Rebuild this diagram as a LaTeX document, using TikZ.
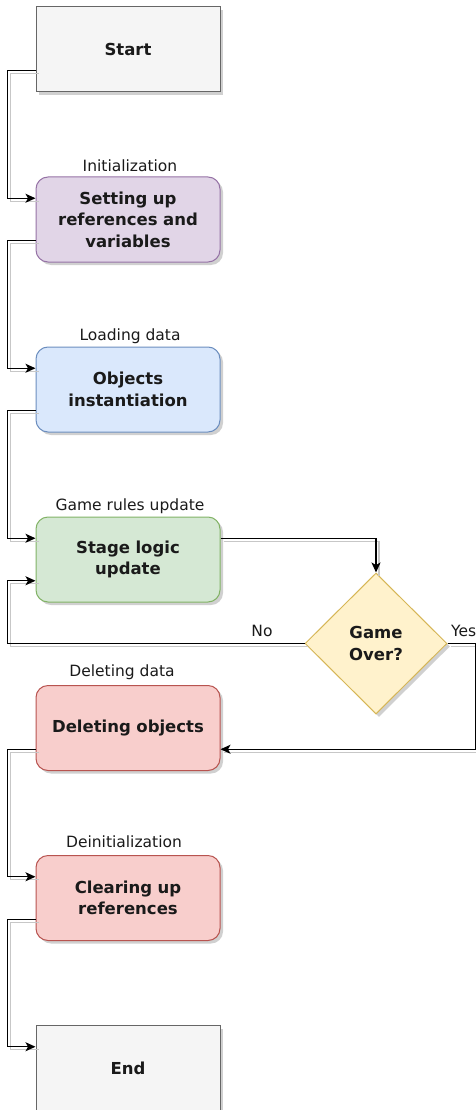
\documentclass[tikz,border=0pt]{standalone}
\usepackage{fontspec}
\setmainfont{DejaVu Sans}
\usetikzlibrary{shapes.geometric,shadows,arrows.meta}
\definecolor{greyfill}{HTML}{F5F5F5}\definecolor{greyline}{HTML}{666666}
\definecolor{purfill}{HTML}{E1D5E7}\definecolor{purline}{HTML}{9673A6}
\definecolor{bluefill}{HTML}{DAE8FC}\definecolor{blueline}{HTML}{6C8EBF}
\definecolor{grnfill}{HTML}{D5E8D4}\definecolor{grnline}{HTML}{82B366}
\definecolor{yelfill}{HTML}{FFF2CC}\definecolor{yelline}{HTML}{D6B656}
\definecolor{redfill}{HTML}{F8CECC}\definecolor{redline}{HTML}{B85450}
\definecolor{txt}{HTML}{1A1A1A}
\tikzset{
  shad/.style={drop shadow={shadow xshift=3pt,shadow yshift=-3pt,fill=black!30,opacity=0.6}},
  box/.style={draw, line width=1pt, minimum width=184pt, minimum height=85pt, text width=176pt,
    align=center, inner sep=0pt, text=txt, font=\bfseries\fontsize{16.5}{21.5}\selectfont, shad},
  rbox/.style={box, rounded corners=12pt},
  lbl/.style={font=\fontsize{15.5}{18}\selectfont, inner sep=0pt, text=txt},
  conn/.style={line width=1.3pt, -{Stealth[length=10pt,width=9pt,inset=2.5pt]},
    preaction={draw=black!22, line width=1.3pt, -, transform canvas={shift={(3pt,-3pt)}}}},
}
\begin{document}
\begin{tikzpicture}[x=1pt,y=-1pt]
\useasboundingbox (0,0) rectangle (476,1110);
\fill[white] (0,0) rectangle (476,1110);
\node[box, fill=greyfill, draw=greyline] (start) at (128,49.5) {Start};
\node[rbox, fill=purfill, draw=purline] (setup) at (128,219.5) {Setting up\\references and\\variables};
\node[rbox, fill=bluefill, draw=blueline] (obj) at (128,389.5) {Objects\\instantiation};
\node[rbox, fill=grnfill, draw=grnline] (stage) at (128,559.5) {Stage logic\\update};
\node[diamond, draw=yelline, fill=yelfill, line width=1pt, minimum width=142pt, minimum height=141pt,
  inner sep=0pt, align=center, text=txt, font=\bfseries\fontsize{16.5}{21.5}\selectfont, shad] (dia) at (376,643.5) {Game\\Over?};
\node[rbox, fill=redfill, draw=redline] (del) at (128,728) {Deleting objects};
\node[rbox, fill=redfill, draw=redline] (clear) at (128,898) {Clearing up\\references};
\node[box, fill=greyfill, draw=greyline] (end) at (128,1068) {End};

\node[lbl] (l1) at (130,166) {Initialization};
\node[lbl] (l2) at (130,336) {Loading data};
\node[lbl] (l3) at (130,506) {Game rules update};
\node[lbl] (l4) at (122,672) {Deleting data};
\node[lbl] (l5) at (124,842) {Deinitialization};
\node[lbl, anchor=center] (no) at (262,631) {No};
\node[lbl, anchor=west] (yes) at (451,631) {Yes};

\draw[conn] ([yshift=-21.25pt]start.west) -- ++(-28,0) |- ([yshift=21.25pt]setup.west);
\draw[conn] ([yshift=-21.25pt]setup.west) -- ++(-28,0) |- ([yshift=21.25pt]obj.west);
\draw[conn] ([yshift=-21.25pt]obj.west) -- ++(-28,0) |- ([yshift=21.25pt]stage.west);
\draw[conn] ([yshift=21.25pt]stage.east) -| (dia.north);
\draw[conn] (dia.west) -| ([xshift=-28pt,yshift=-21.25pt]stage.west) -- ([yshift=-21.25pt]stage.west);
\draw[conn] (dia.east) -- ++(28,0) |- ([yshift=-21.25pt]del.east);
\draw[conn] ([yshift=-21.25pt]del.west) -- ++(-28,0) |- ([yshift=21.25pt]clear.west);
\draw[conn] ([yshift=-21.25pt]clear.west) -- ++(-28,0) |- ([yshift=21.25pt]end.west);
\end{tikzpicture}
\end{document}
